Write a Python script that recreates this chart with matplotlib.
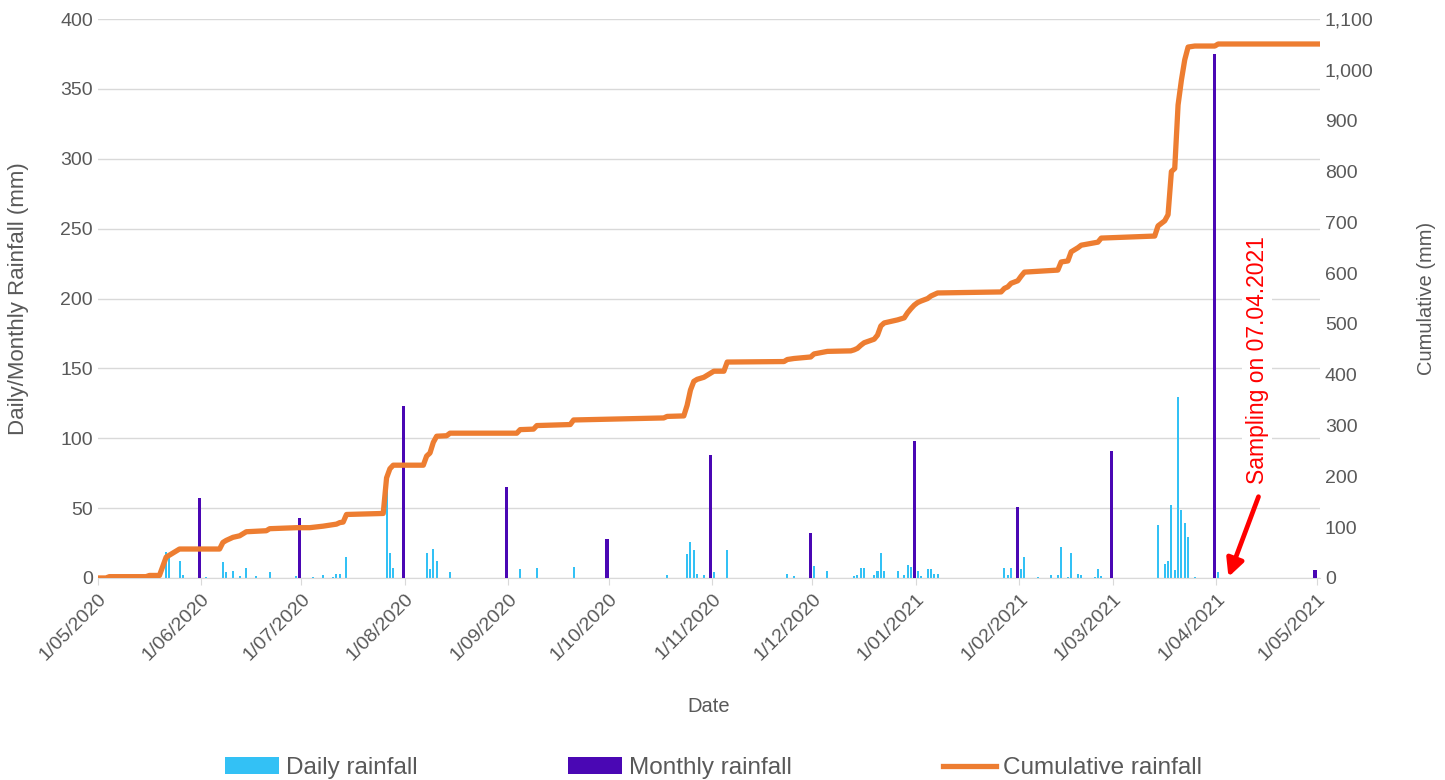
import matplotlib
matplotlib.use('Agg')
import matplotlib.pyplot as plt
import numpy as np
import pandas as pd

plt.rcParams['font.family'] = ['Liberation Sans', 'DejaVu Sans']

# daily rainfall bars (mm)
daily_dates = ['2020-05-21', '2020-05-22', '2020-05-25', '2020-05-26',
               '2020-06-02', '2020-06-07', '2020-06-08', '2020-06-10', '2020-06-12', '2020-06-14',
               '2020-06-17', '2020-06-21', '2020-06-29',
               '2020-07-04', '2020-07-07', '2020-07-10', '2020-07-11', '2020-07-12', '2020-07-14',
               '2020-07-26', '2020-07-27', '2020-07-28',
               '2020-08-07', '2020-08-08', '2020-08-09', '2020-08-10', '2020-08-14',
               '2020-09-04', '2020-09-09', '2020-09-20',
               '2020-10-18', '2020-10-24', '2020-10-25', '2020-10-26', '2020-10-27', '2020-10-29',
               '2020-11-01', '2020-11-05', '2020-11-23', '2020-11-25',
               '2020-12-01', '2020-12-05', '2020-12-13', '2020-12-14', '2020-12-15', '2020-12-16',
               '2020-12-19', '2020-12-20', '2020-12-21', '2020-12-22', '2020-12-26', '2020-12-28',
               '2020-12-29', '2020-12-30',
               '2021-01-01', '2021-01-02', '2021-01-04', '2021-01-05', '2021-01-06', '2021-01-07',
               '2021-01-27', '2021-01-28', '2021-01-29',
               '2021-02-01', '2021-02-02', '2021-02-06', '2021-02-10', '2021-02-12', '2021-02-13',
               '2021-02-15', '2021-02-16', '2021-02-18', '2021-02-19', '2021-02-23', '2021-02-24',
               '2021-02-25',
               '2021-03-14', '2021-03-16', '2021-03-17', '2021-03-18', '2021-03-19', '2021-03-20',
               '2021-03-21', '2021-03-22', '2021-03-23', '2021-03-25',
               '2021-04-01']
daily_mm = [18.4, 18, 12, 2,
            1, 11.5, 4.5, 5.2, 1.4, 7.2,
            1.2, 4.3, 1.4,
            1, 2.1, 1, 3.1, 3.1, 15,
            70, 17.9, 7.2,
            18, 6.2, 21, 12.2, 4.3,
            6.2, 7.2, 8.1,
            2.1, 17.2, 26, 20, 3.1, 2.1,
            4.3, 20, 3.1, 1.2,
            8.8, 5.2, 1.2, 2.1, 7.2, 7.2,
            2.1, 5.2, 18.1, 5.2, 5.2, 2.1,
            9, 8.1,
            4.8, 1.4, 6.2, 6.2, 3.1, 3.1,
            7.2, 2.1, 7.2,
            6.2, 15, 1, 2.1, 2.1, 22,
            1, 18.1, 3.1, 2.1, 1, 6.2,
            1.4,
            37.7, 10, 12.2, 52.5, 6, 129.3,
            48.4, 39.6, 29.1, 1,
            4]

# monthly totals, drawn on the last day of each month
monthly_dates = ['2020-05-31', '2020-06-30', '2020-07-31', '2020-08-31', '2020-09-30', '2020-10-31',
                 '2020-11-30', '2020-12-31', '2021-01-31', '2021-02-28', '2021-03-31', '2021-04-30']
monthly_mm = [57, 43, 123, 65, 28, 88, 32, 98, 51, 91, 375, 6]

# cumulative rainfall curve (mm), break points
cum_dates = ['2020-05-01', '2020-05-03', '2020-05-04', '2020-05-15', '2020-05-16', '2020-05-19',
             '2020-05-20', '2020-05-21', '2020-05-24', '2020-05-25', '2020-06-06', '2020-06-07',
             '2020-06-08', '2020-06-10', '2020-06-12', '2020-06-14', '2020-06-20', '2020-06-21',
             '2020-06-29', '2020-07-03', '2020-07-07', '2020-07-11', '2020-07-12', '2020-07-13',
             '2020-07-14', '2020-07-25', '2020-07-26', '2020-07-27', '2020-07-28', '2020-08-06',
             '2020-08-07', '2020-08-08', '2020-08-09', '2020-08-10', '2020-08-13', '2020-08-14',
             '2020-09-03', '2020-09-04', '2020-09-08', '2020-09-09', '2020-09-19', '2020-09-20',
             '2020-10-17', '2020-10-18', '2020-10-23', '2020-10-24', '2020-10-25', '2020-10-26',
             '2020-10-27', '2020-10-29', '2020-10-31', '2020-11-01', '2020-11-04', '2020-11-05',
             '2020-11-22', '2020-11-23', '2020-11-25', '2020-11-30', '2020-12-01', '2020-12-05',
             '2020-12-12', '2020-12-13', '2020-12-14', '2020-12-15', '2020-12-16', '2020-12-19',
             '2020-12-20', '2020-12-21', '2020-12-22', '2020-12-26', '2020-12-28', '2020-12-29',
             '2020-12-30', '2020-12-31', '2021-01-01', '2021-01-02', '2021-01-04', '2021-01-05',
             '2021-01-06', '2021-01-07', '2021-01-26', '2021-01-27', '2021-01-28', '2021-01-29',
             '2021-01-31', '2021-02-01', '2021-02-02', '2021-02-12', '2021-02-13', '2021-02-15',
             '2021-02-16', '2021-02-18', '2021-02-19', '2021-02-24', '2021-02-25', '2021-03-13',
             '2021-03-14', '2021-03-16', '2021-03-17', '2021-03-18', '2021-03-19', '2021-03-20',
             '2021-03-21', '2021-03-22', '2021-03-23', '2021-03-25', '2021-03-31', '2021-04-01',
             '2021-05-01']
cum_mm = [0, 0, 2.6, 2.6, 5, 5,
          23, 41, 53, 57, 57, 70,
          74, 80, 83, 91, 93, 97,
          99, 99, 102, 106, 109, 110,
          125, 127, 197, 215, 222, 222,
          240, 246, 267, 279, 280, 285,
          285, 292, 293, 300, 302, 311,
          315, 318, 319, 340, 370, 387,
          391, 395, 403, 407, 407, 425,
          426, 430, 432, 435, 441, 446,
          447, 449, 452, 458, 463, 470,
          478, 496, 502, 508, 512, 522,
          530, 537, 542, 545, 550, 555,
          558, 561, 563, 570, 573, 580,
          585, 594, 602, 606, 622, 624,
          642, 650, 655, 661, 669, 673,
          693, 703, 715, 800, 806, 931,
          980, 1020, 1045, 1047, 1047, 1051,
          1051]

x_ticks = pd.date_range('2020-05-01', '2021-05-01', freq='MS')

d_daily = pd.to_datetime(daily_dates) + pd.Timedelta(hours=12)
d_month = pd.to_datetime(monthly_dates) + pd.Timedelta(hours=12)
d_cum = pd.to_datetime(cum_dates) + pd.Timedelta(hours=12)

grey = '#595959'
fig = plt.figure(figsize=(14.45, 7.8), dpi=100)
ax = fig.add_axes([0.0676, 0.259, 0.8459, 0.7165])
ax2 = ax.twinx()

ax.bar(d_daily, daily_mm, width=0.6, color='#33c1f5', zorder=2, label='Daily rainfall')
ax.bar(d_month, monthly_mm, width=1.0, color='#4a07b4', zorder=3, label='Monthly rainfall')
ax2.plot(d_cum, cum_mm, color='#ed7d31', lw=3.8, solid_joinstyle='round', label='Cumulative rainfall')

ax.set_xlim(pd.Timestamp('2020-05-01'), pd.Timestamp('2021-05-02'))
ax.set_ylim(0, 400)
ax.set_yticks(np.arange(0, 401, 50))
ax2.set_ylim(0, 1100)
ax2.set_yticks(np.arange(0, 1101, 100))
ax2.set_yticklabels(['{:,}'.format(v) for v in range(0, 1101, 100)])

ax.set_xticks(x_ticks)
ax.set_xticklabels([d.strftime('1/%m/%Y') for d in x_ticks], rotation=45, ha='right',
                   rotation_mode='anchor')
ax.grid(axis='y', color='#d9d9d9', lw=1)
ax.set_axisbelow(True)

for a in (ax, ax2):
    for s in a.spines.values():
        s.set_visible(False)
    a.tick_params(colors=grey, labelsize=14, length=0)
ax.tick_params(axis='x', length=5, color='#d9d9d9', pad=4)
ax.spines['bottom'].set_visible(True)
ax.spines['bottom'].set_color('#d9d9d9')

ax.set_ylabel('Daily/Monthly Rainfall (mm)', color=grey, fontsize=16)
ax.yaxis.set_label_coords(-0.056, 0.5)
ax2.set_ylabel('Cumulative (mm)', color=grey, fontsize=14.5)
ax2.yaxis.set_label_coords(1.079, 0.5)
ax.set_xlabel('Date', color=grey, fontsize=14.5, labelpad=24)

# red sampling note with its arrow
ax2.annotate('', xy=(pd.Timestamp('2021-04-04 14:00'), 2),
             xytext=(pd.Timestamp('2021-04-13 14:00'), 160), textcoords='data',
             arrowprops=dict(arrowstyle='-|>', color='#ff0000', lw=3.4, mutation_scale=26,
                             shrinkA=0, shrinkB=0))
ax2.text(pd.Timestamp('2021-04-13 04:00'), 184, 'Sampling on 07.04.2021', color='#ff0000',
         fontsize=16.5, rotation=90, ha='center', va='bottom',
         bbox=dict(boxstyle='square,pad=0.15', fc='white', ec='none'))

h1, l1 = ax.get_legend_handles_labels()
h2, l2 = ax2.get_legend_handles_labels()
fig.legend(h1 + h2, l1 + l2, loc='lower center', bbox_to_anchor=(0.494, -0.027), ncol=3,
           frameon=False, fontsize=17.5, labelcolor=grey, handlelength=2.2, handleheight=0.7,
           handletextpad=0.3, columnspacing=6.2)

fig.savefig('out.png', dpi=100)
